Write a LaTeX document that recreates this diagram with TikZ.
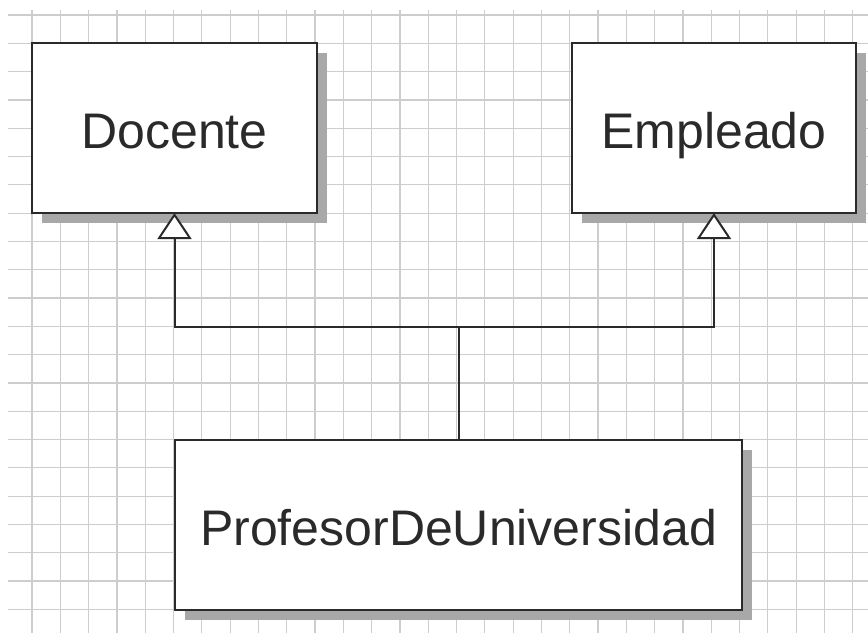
\documentclass[tikz,border=0pt]{standalone}
\usepackage{fontspec}
\setmainfont{Liberation Sans}
\usetikzlibrary{arrows.meta,shadows}
\definecolor{gridc}{HTML}{CDCDCD}
\definecolor{shadc}{HTML}{A8A8A8}
\definecolor{ink}{HTML}{2A2A2A}
\tikzset{
  classbox/.style={draw=ink, line width=2pt, fill=white, inner sep=0pt, outer sep=0pt,
    minimum height=170pt, text=ink, font=\fontsize{50}{60}\selectfont,
    text height=44pt, text depth=3pt,
    drop shadow={shadow xshift=10pt, shadow yshift=-10pt, fill=shadc, opacity=1}},
  conn/.style={draw=ink, line width=2pt},
  inherit/.style={conn, -{Triangle[length=26pt, width=34pt, fill=white, line width=2pt]}},
  gridline/.style={draw=gridc, line width=1.2pt}
}
\begin{document}
\begin{tikzpicture}[x=1pt,y=-1pt]
\useasboundingbox (0,0) rectangle (868,633);
\fill[white] (0,0) rectangle (868,633);
\foreach \k in {0,...,29} {
  \draw[gridline] ({32+28.3*\k},10) -- ({32+28.3*\k},633);
}
\foreach \k in {0,...,21} {
  \draw[gridline] (8,{15+28.3*\k}) -- (868,{15+28.3*\k});
}
\node[classbox, minimum width=285pt] (doc) at (174.5,128) {Docente};
\node[classbox, minimum width=284pt] (emp) at (714,128) {Empleado};
\node[classbox, minimum width=567pt] (prof) at (458.5,525) {ProfesorDeUniversidad};
\coordinate (j) at (prof.north |- 0,327);
\draw[conn] (prof.north) -- (j);
\draw[inherit] (j) -| (doc.south);
\draw[inherit] (j) -| (emp.south);
\end{tikzpicture}
\end{document}
